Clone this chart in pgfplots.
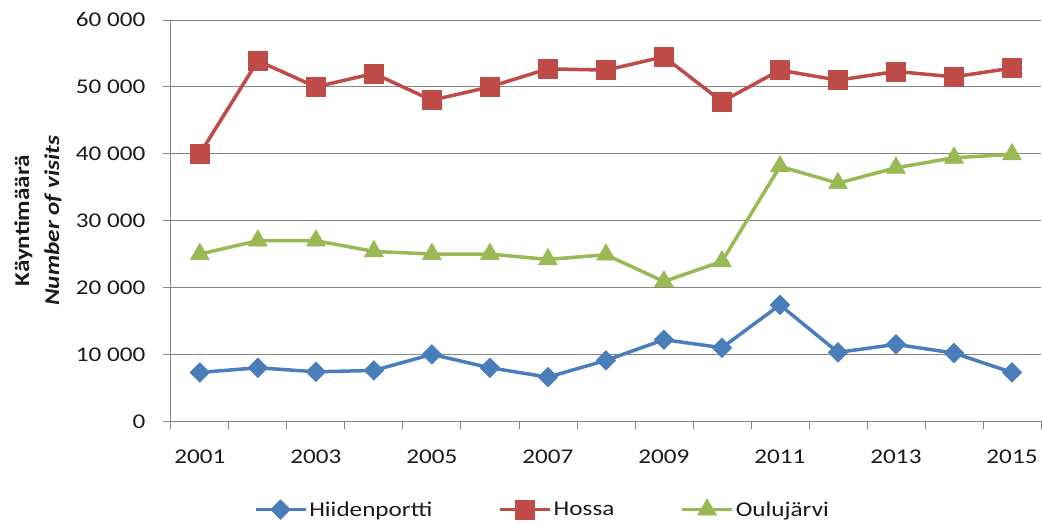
\documentclass[border=0pt]{standalone}
\usepackage{fontspec}
\setmainfont{Carlito}
\usepackage{graphicx}
\usepackage{pgfplots}
\usepackage{pgfplotstable}
\pgfplotsset{compat=1.18}

\definecolor{blu}{HTML}{4A7EBB}
\definecolor{rd}{HTML}{BE4B48}
\definecolor{grn}{HTML}{98B954}
\definecolor{gridc}{HTML}{868686}
\definecolor{txt}{HTML}{1A1A1A}

% Excel's rendering is wider than Carlito: widen text horizontally
\newcommand\w[1]{\scalebox{1.2}[1]{#1}}

% x = category centre (2001 -> 0.5, ..., 2015 -> 14.5)
\pgfplotstableread{
x    hiid   hossa  oulu
0.5  7300   40000  25000
1.5  8000   53900  27000
2.5  7400   50000  27000
3.5  7600   52000  25400
4.5  10000  48000  25000
5.5  8000   50000  25000
6.5  6600   52700  24200
7.5  9100   52500  24900
8.5  12200  54500  20900
9.5  11000  47800  23900
10.5 17400  52500  38100
11.5 10300  51000  35600
12.5 11500  52300  37900
13.5 10200  51500  39400
14.5 7300   52800  39900
}\visits

\begin{document}
\begin{tikzpicture}[font=\fontsize{21bp}{25bp}\selectfont, text=txt]
\begin{axis}[
    name=ax,
    width=871bp, height=401.7bp, scale only axis,
    xmin=0, xmax=15, ymin=0, ymax=60000,
    axis x line*=bottom, axis y line*=left,
    axis line style={gridc, line width=0.8bp, -},
    xtick={0.5,2.5,...,14.5},
    xticklabels={\w{2001},\w{2003},\w{2005},\w{2007},\w{2009},\w{2011},\w{2013},\w{2015}},
    major x tick style={draw=none},
    minor xtick={0,1,...,15},
    minor x tick style={gridc, line width=0.8bp},
    minor tick length=8bp,
    ytick={0,10000,...,60000},
    scaled y ticks=false,
    yticklabels={\w{0},\w{10 000},\w{20 000},\w{30 000},\w{40 000},\w{50 000},\w{60 000}},
    y tick style={gridc, line width=0.8bp},
    major tick length=8bp,
    tick align=outside,
    ymajorgrids,
    major grid style={gridc, line width=0.8bp},
    ticklabel style={font=\fontsize{21bp}{25bp}\selectfont, text=txt},
    yticklabel style={xshift=-14bp},
    xticklabel style={yshift=-17bp},
    ylabel={\w{\textbf{Käyntimäärä}}\\\w{\textbf{\textit{Number of visits}}}},
    ylabel style={align=center, font=\fontsize{21bp}{30bp}\selectfont,
        at={(axis description cs:-0.1527,0.5)}, anchor=center},
    legend columns=-1,
    legend style={draw=none, fill=none, at={(0.427,-0.219)}, anchor=center,
        font=\fontsize{21bp}{25bp}\selectfont,
        /tikz/every even column/.append style={column sep=64bp}},
    legend image code/.code={
        \draw[mark repeat=2,mark phase=2] plot coordinates {(0bp,0bp) (25bp,0bp) (50bp,0bp)};},
    clip=false,
]
\addplot[blu, line width=3.5bp, line join=round, mark=square*, mark size=7bp,
    mark options={rotate=45, line width=0.5bp, solid, fill=blu}]
    table[x=x, y=hiid] {\visits};
\addplot[rd, line width=3.5bp, line join=round, mark=square*, mark size=9.5bp,
    mark options={line width=0.5bp, solid, fill=rd}]
    table[x=x, y=hossa] {\visits};
\addplot[grn, line width=3.5bp, line join=round, mark=triangle*, mark size=11bp,
    mark options={line width=0.5bp, solid, fill=grn}]
    table[x=x, y=oulu] {\visits};
\legend{\w{Hiidenportti}, \w{Hossa}, \w{Oulujärvi}}
\end{axis}
% fix the page to the reference frame around the plot area
\path ([shift={(-171bp,-102.3bp)}]ax.south west) rectangle ([shift={(1bp,20bp)}]ax.north east);
\end{tikzpicture}
\end{document}
